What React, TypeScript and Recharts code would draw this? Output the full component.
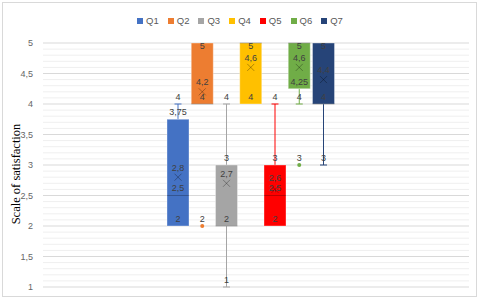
import { ComposedChart, Bar, XAxis, YAxis, CartesianGrid } from 'recharts';

const series = ['Q1', 'Q2', 'Q3', 'Q4', 'Q5', 'Q6', 'Q7'];
const colors = ['#4472C4', '#ED7D31', '#A5A5A5', '#FFC000', '#FF0000', '#70AD47', '#264478'];
const lowWhisker = [2, 4, 1, 4, 2, 4, 3];
const boxLow = [2, 4, 2, 4, 2, 4.25, 4];
const medians = [2.5, 4, 2, 5, 2.5, 5, 4];
const means = [2.8, 4.2, 2.7, 4.6, 2.6, 4.6, 4.4];
const boxHigh = [3.75, 5, 3, 5, 3, 5, 5];
const highWhisker = [4, 5, 4, 5, 4, 5, 5];
const outliers: number[][] = [[], [2], [], [], [], [3], []];

const yTicks = [1, 1.5, 2, 2.5, 3, 3.5, 4, 4.5, 5];
const yMin = 1;
const yMax = 5;
// minor grid every 0.1
const minorLines: number[] = [];
for (let i = 11; i < 50; i++) if (i % 5 !== 0) minorLines.push(i / 10);

// one category, one range bar per question
const row: Record<string, any> = { name: '' };
series.forEach((s, i) => (row[s] = [boxLow[i], boxHigh[i]]));
const data = [row];

const fmt = (v: number) => String(v).replace('.', ',');
const labelColor = '#404040';
const labelFont = 'Liberation Sans Narrow, Liberation Sans, Arial, sans-serif';

function BoxShape(props: any) {
  const { x, y, width, height, i } = props;
  const top = Math.min(y, y + height);
  const h = Math.abs(height);
  const unit = h / (boxHigh[i] - boxLow[i]);
  const py = (v: number) => top + (boxHigh[i] - v) * unit;
  const cx = x + width / 2;
  const color = colors[i];
  const plotTop = py(yMax);
  const cap = 3.5;

  const labelVals = Array.from(
    new Set([highWhisker[i], boxHigh[i], means[i], medians[i], boxLow[i], lowWhisker[i], ...outliers[i]])
  );
  const labelY = (v: number) => {
    let ly = py(v) - (v === means[i] ? 9 : 6.5);
    if (v === means[i]) {
      // keep the mean label clear of the median label
      const medY = py(medians[i]) - 6.5;
      if (medians[i] !== means[i] && Math.abs(ly - medY) < 10) ly = medY - 10;
    }
    return Math.max(ly, plotTop + 4);
  };

  return (
    <g>
      {highWhisker[i] > boxHigh[i] && (
        <g stroke={color} strokeWidth={1}>
          <line x1={cx} x2={cx} y1={py(boxHigh[i])} y2={py(highWhisker[i])} />
          <line x1={cx - cap} x2={cx + cap} y1={py(highWhisker[i])} y2={py(highWhisker[i])} />
        </g>
      )}
      {lowWhisker[i] < boxLow[i] && (
        <g stroke={color} strokeWidth={1}>
          <line x1={cx} x2={cx} y1={py(boxLow[i])} y2={py(lowWhisker[i])} />
          <line x1={cx - cap} x2={cx + cap} y1={py(lowWhisker[i])} y2={py(lowWhisker[i])} />
        </g>
      )}
      <rect x={x} y={top} width={width} height={h} fill={color} stroke="rgba(255,255,255,0.35)" strokeWidth={1} />
      <line x1={x} x2={x + width} y1={py(medians[i])} y2={py(medians[i])} stroke="rgba(0,0,0,0.25)" strokeWidth={1} />
      <g stroke="rgba(0,0,0,0.3)" strokeWidth={1}>
        <line x1={cx - 3.5} x2={cx + 3.5} y1={py(means[i]) - 3.5} y2={py(means[i]) + 3.5} />
        <line x1={cx - 3.5} x2={cx + 3.5} y1={py(means[i]) + 3.5} y2={py(means[i]) - 3.5} />
      </g>
      {outliers[i].map((o) => (
        <circle key={o} cx={cx} cy={py(o)} r={2} fill={color} />
      ))}
      {labelVals.map((v) => (
        <text
          key={v}
          x={cx}
          y={labelY(v)}
          textAnchor="middle"
          dominantBaseline="middle"
          fontSize={9}
          fill={labelColor}
          fontFamily={labelFont}
        >
          {fmt(v)}
        </text>
      ))}
    </g>
  );
}

export default function App() {
  return (
    <div style={{ position: 'fixed', left: 0, top: 0, width: 480, height: 301, background: '#fff' }}>
      <div
        style={{
          position: 'absolute',
          left: 2,
          top: 2,
          width: 473,
          height: 293,
          border: '1px solid #d9d9d9',
        }}
      />
      <div
        style={{
          position: 'absolute',
          top: 14,
          left: 0,
          width: 480,
          display: 'flex',
          justifyContent: 'center',
          gap: 9,
          fontFamily: 'Liberation Sans, Arial, sans-serif',
          fontSize: 9.5,
          color: '#595959',
          lineHeight: '14px',
        }}
      >
        {series.map((s, i) => (
          <div key={s} style={{ display: 'flex', alignItems: 'center', gap: 3 }}>
            <span style={{ width: 6, height: 6, background: colors[i], display: 'inline-block' }} />
            <span>{s}</span>
          </div>
        ))}
      </div>
      <ComposedChart
        width={480}
        height={301}
        data={data}
        margin={{ top: 43, right: 11, bottom: 14, left: 13 }}
        barGap={2.25}
        style={{ position: 'absolute', left: 0, top: 0 }}
      >
        <CartesianGrid vertical={false} horizontalValues={minorLines} stroke="#efefef" />
        <CartesianGrid vertical={false} horizontalValues={yTicks} stroke="#d9d9d9" />
        <XAxis dataKey="name" hide padding={{ left: 0, right: 10 }} />
        <YAxis
          domain={[yMin, yMax]}
          ticks={yTicks}
          interval={0}
          width={30}
          axisLine={false}
          tickLine={false}
          tickFormatter={fmt}
          tick={{ fontSize: 9, fill: '#666', fontFamily: 'Liberation Sans, Arial, sans-serif' }}
          tickMargin={4}
          label={{
            content: () => (
              <text
                x={17}
                y={174}
                transform="rotate(-90 17 174)"
                textAnchor="middle"
                dominantBaseline="middle"
                fontSize={12.5}
                fontFamily="Liberation Serif, Times New Roman, serif"
                fill="#000"
              >
                Scale of satisfaction
              </text>
            ),
          }}
        />
        {series.map((s, i) => (
          <Bar
            key={s}
            dataKey={s}
            fill={colors[i]}
            barSize={22}
            isAnimationActive={false}
            shape={(p: any) => <BoxShape {...p} i={i} />}
          />
        ))}
      </ComposedChart>
    </div>
  );
}
